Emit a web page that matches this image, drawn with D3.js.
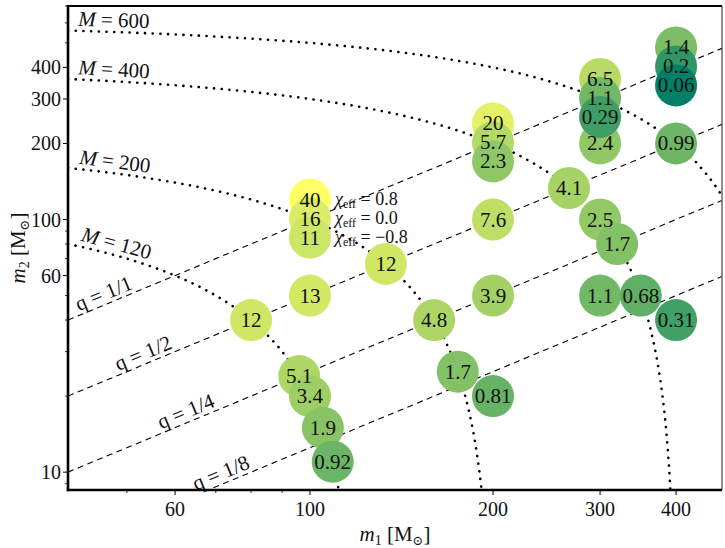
<!DOCTYPE html>
<html>
<head>
<meta charset="utf-8">
<script src="https://cdn.jsdelivr.net/npm/d3@7"></script>
<style>
  html, body { margin: 0; padding: 0; background: #fff; }
  svg { display: block; }
  text { font-family: "Liberation Serif", "DejaVu Serif", serif; fill: #111; }
</style>
</head>
<body>
<svg id="chart" width="725" height="548"></svg>
<script>
// ---------- data ----------
// grid points with three spin values (chi_eff = 0.8, 0.0, -0.8), stacked vertically
const tripleM1 = [100, 200, 300, 400];
const tripleM2 = [100, 200, 300, 400];
const tripleHigh = [40, 20, 6.5, 1.4];     // chi_eff = 0.8
const tripleZero = [16, 5.7, 1.1, 0.2];    // chi_eff = 0.0
const tripleLow  = [11, 2.3, 0.29, 0.06];  // chi_eff = -0.8
const chiLabels = ["0.8", "0.0", "\u22120.8"];

// single points
const singleM1 = [80, 100, 133.3, 96, 100, 105, 109, 200, 160, 200, 175, 200, 266.7, 300, 400, 300, 320, 300, 350, 400];
const singleM2 = [40, 50, 66.7, 24, 20, 15, 11, 100, 40, 50, 25, 20, 133.3, 200, 200, 100, 80, 50, 50, 40];
const singleVal = [12, 13, 12, 5.1, 3.4, 1.9, 0.92, 7.6, 4.8, 3.9, 1.7, 0.81, 4.1, 2.4, 0.99, 2.5, 1.7, 1.1, 0.68, 0.31];
const singleTxt = ["12", "13", "12", "5.1", "3.4", "1.9", "0.92", "7.6", "4.8", "3.9", "1.7", "0.81", "4.1", "2.4", "0.99", "2.5", "1.7", "1.1", "0.68", "0.31"];
const tripleTxtHigh = ["40", "20", "6.5", "1.4"];
const tripleTxtZero = ["16", "5.7", "1.1", "0.2"];
const tripleTxtLow  = ["11", "2.3", "0.29", "0.06"];

// reference lines
const totalMasses = [120, 200, 400, 600];
const totalLabelM1 = [47.5, 47.5, 47.5, 47.5];
const ratios = [1, 1/2, 1/4, 1/8];
const ratioLabels = ["1/1", "1/2", "1/4", "1/8"];
const ratioLabelM1 = [46.5, 54, 63.5, 72.5];

// ticks
const xMajor = [60, 100, 200, 300, 400];
const xMinor = [50, 70, 80, 90];
const yMajor = [10, 60, 100, 200, 300, 400];
const yMinor = [9, 20, 30, 40, 50, 70, 80, 90, 500, 600, 700];

// ---------- layout ----------
const L = 68, R = 722, T = 6, B = 490;
const svg = d3.select("#chart");
const x = d3.scaleLog().domain([40, 476]).range([L, R]);
const y = d3.scaleLog().domain([8.5, 700]).range([B, T]);

// summer colormap with log normalisation
const allVals = singleVal.concat(tripleHigh, tripleZero, tripleLow);
const vmin = d3.min(allVals), vmax = d3.max(allVals);
const norm = d3.scaleLog().domain([vmin, vmax]).range([0, 1]).clamp(true);
const summer = t => d3.rgb(255 * t, 255 * (0.5 + 0.5 * t), 255 * 0.4).toString();

svg.append("defs").append("clipPath").attr("id", "clip")
  .append("rect").attr("x", L).attr("y", T).attr("width", R - L).attr("height", B - T);

const gLines = svg.append("g").attr("clip-path", "url(#clip)");
const line = d3.line().x(d => x(d[0])).y(d => y(d[1]));

// total mass curves (dotted)
totalMasses.forEach(M => {
  const pts = [];
  const hi = Math.min(476, M - 8.0);
  const n = 400;
  for (let i = 0; i <= n; i++) {
    const lm = Math.log10(40) + (Math.log10(hi) - Math.log10(40)) * i / n;
    const m1 = Math.pow(10, lm);
    pts.push([m1, M - m1]);
  }
  gLines.append("path").attr("d", line(pts))
    .attr("fill", "none").attr("stroke", "#000").attr("stroke-width", 2.6)
    .attr("stroke-dasharray", "0.1 7.6").attr("stroke-linecap", "round");
});

// mass ratio lines (dashed)
ratios.forEach(q => {
  const pts = [[40, 40 * q], [476, 476 * q]];
  gLines.append("path").attr("d", line(pts))
    .attr("fill", "none").attr("stroke", "#000").attr("stroke-width", 1.1)
    .attr("stroke-dasharray", "6 4.5");
});

// line labels
function placeLabel(px, py, px2, py2, off) {
  const ang = Math.atan2(py2 - py, px2 - px) * 180 / Math.PI;
  return `translate(${px},${py}) rotate(${ang}) translate(0,${off})`;
}
totalMasses.forEach((M, i) => {
  const m1 = totalLabelM1[i];
  const t = svg.append("text")
    .attr("transform", placeLabel(x(m1), y(M - m1), x(m1 * 1.01), y(M - m1 * 1.01), -5))
    .attr("text-anchor", "middle").attr("font-size", 21).attr("fill", "#222");
  t.append("tspan").attr("font-style", "italic").text("M");
  t.append("tspan").text(" = " + M);
});
ratios.forEach((q, i) => {
  const m1 = ratioLabelM1[i];
  const t = svg.append("text")
    .attr("transform", placeLabel(x(m1), y(q * m1), x(m1 * 1.01), y(q * m1 * 1.01), -4))
    .attr("text-anchor", "middle").attr("font-size", 21).attr("fill", "#222");
  t.text("q = " + ratioLabels[i]);
});

// ---------- circles ----------
const chiShift = [-20, -1, 18];
const pts = [];
tripleM1.forEach((m1, i) => {
  pts.push({m1, m2: tripleM2[i], v: tripleHigh[i], t: tripleTxtHigh[i], dy: chiShift[0]});
  pts.push({m1, m2: tripleM2[i], v: tripleZero[i], t: tripleTxtZero[i], dy: chiShift[1]});
  pts.push({m1, m2: tripleM2[i], v: tripleLow[i], t: tripleTxtLow[i], dy: chiShift[2]});
});
singleM1.forEach((m1, i) => {
  pts.push({m1, m2: singleM2[i], v: singleVal[i], t: singleTxt[i], dy: 0});
});
pts.sort((a, b) => b.v - a.v);

svg.append("g").selectAll("circle").data(pts).join("circle")
  .attr("cx", d => x(d.m1)).attr("cy", d => y(d.m2) + d.dy)
  .attr("r", 21).attr("fill", d => summer(norm(d.v)));
svg.append("g").selectAll("text").data(pts).join("text")
  .attr("x", d => x(d.m1)).attr("y", d => y(d.m2) + d.dy + 7)
  .attr("text-anchor", "middle").attr("font-size", 21).attr("fill", "#111")
  .text(d => d.t);

// chi_eff legend next to the (100,100) stack
chiLabels.forEach((lab, i) => {
  const t = svg.append("text")
    .attr("x", x(tripleM1[0]) + 25)
    .attr("y", y(tripleM2[0]) + chiShift[i] + 5)
    .attr("font-size", 18).attr("fill", "#222");
  t.append("tspan").attr("font-style", "italic").text("\u03c7");
  t.append("tspan").attr("font-size", 12).attr("dy", 3).text("eff");
  t.append("tspan").attr("dy", -3).text(" = " + lab);
});

// ---------- axes ----------
const gAx = svg.append("g");
xMajor.forEach(v => {
  gAx.append("line").attr("x1", x(v)).attr("x2", x(v)).attr("y1", B).attr("y2", B + 5)
    .attr("stroke", "#000").attr("stroke-width", 1);
  gAx.append("text").attr("x", x(v)).attr("y", B + 26).attr("text-anchor", "middle")
    .attr("font-size", 20).text(v);
});
xMinor.forEach(v => {
  gAx.append("line").attr("x1", x(v)).attr("x2", x(v)).attr("y1", B).attr("y2", B + 3)
    .attr("stroke", "#000").attr("stroke-width", 0.8);
});
yMajor.forEach(v => {
  gAx.append("line").attr("x1", L - 5).attr("x2", L).attr("y1", y(v)).attr("y2", y(v))
    .attr("stroke", "#000").attr("stroke-width", 1);
  gAx.append("text").attr("x", L - 7).attr("y", y(v) + 7).attr("text-anchor", "end")
    .attr("font-size", 20).text(v);
});
yMinor.forEach(v => {
  gAx.append("line").attr("x1", L - 3).attr("x2", L).attr("y1", y(v)).attr("y2", y(v))
    .attr("stroke", "#000").attr("stroke-width", 0.8);
});

// spines
gAx.append("line").attr("x1", L).attr("x2", R).attr("y1", T).attr("y2", T)
  .attr("stroke", "#000").attr("stroke-width", 2);
gAx.append("line").attr("x1", R).attr("x2", R).attr("y1", T).attr("y2", B)
  .attr("stroke", "#444").attr("stroke-width", 1.2);
gAx.append("line").attr("x1", L).attr("x2", L).attr("y1", T - 1).attr("y2", B + 1.3)
  .attr("stroke", "#000").attr("stroke-width", 2.6);
gAx.append("line").attr("x1", L - 1.3).attr("x2", R).attr("y1", B).attr("y2", B)
  .attr("stroke", "#000").attr("stroke-width", 2.6);

// axis labels
const xl = svg.append("text").attr("x", (L + R) / 2).attr("y", 541)
  .attr("text-anchor", "middle").attr("font-size", 21);
xl.append("tspan").attr("font-style", "italic").text("m");
xl.append("tspan").attr("font-size", 14).attr("dy", 4).text("1");
xl.append("tspan").attr("dy", -4).text(" [M");
xl.append("tspan").attr("font-size", 13).attr("dy", 4).text("\u2299");
xl.append("tspan").attr("dy", -4).text("]");

const yl = svg.append("text").attr("transform", `translate(25,${(T + B) / 2}) rotate(-90)`)
  .attr("text-anchor", "middle").attr("font-size", 21);
yl.append("tspan").attr("font-style", "italic").text("m");
yl.append("tspan").attr("font-size", 14).attr("dy", 4).text("2");
yl.append("tspan").attr("dy", -4).text(" [M");
yl.append("tspan").attr("font-size", 13).attr("dy", 4).text("\u2299");
yl.append("tspan").attr("dy", -4).text("]");
</script>
</body>
</html>
